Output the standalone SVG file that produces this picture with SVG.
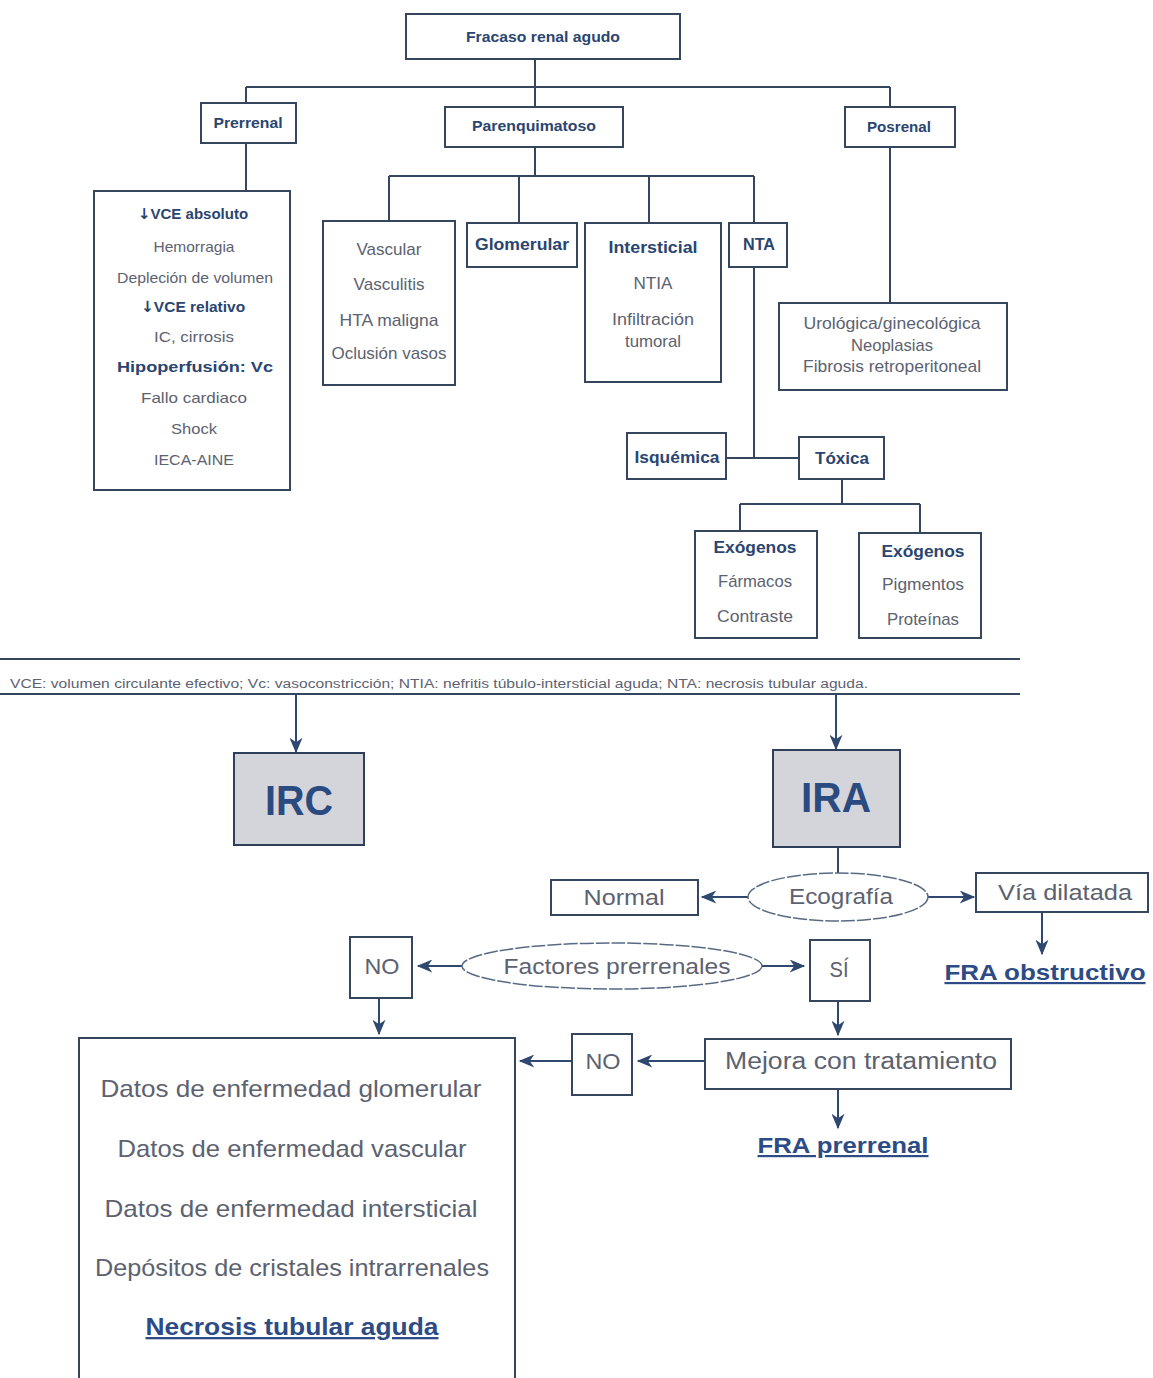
<svg xmlns="http://www.w3.org/2000/svg" width="1153" height="1378" viewBox="0 0 1153 1378">
<style>
text{font-family:"Liberation Sans",Arial,sans-serif;text-anchor:middle}
.b{font-weight:bold;fill:#2a4570}
.r{fill:#5c6270}
.box{fill:#fff;stroke:#36465e;stroke-width:2}
.gbox{fill:#d3d5da;stroke:#2f3f5a;stroke-width:2}
.ell{fill:#fff;stroke:#5a6a82;stroke-width:1.5;stroke-dasharray:14 2}
.ln{fill:none;stroke:#36465e;stroke-width:2}
.ar{fill:none;stroke:#2f4870;stroke-width:2;marker-end:url(#ah)}
.u{font-weight:bold;fill:#2d4b85;text-decoration:underline}
.big{font-weight:bold;fill:#2b4a7f}
.dn{font-family:"DejaVu Sans",sans-serif;font-weight:bold}
</style>
<defs>
<marker id="ah" viewBox="0 0 12 10" refX="11" refY="5" markerUnits="userSpaceOnUse" markerWidth="17" markerHeight="13" orient="auto">
<path d="M0,0 L12,5 L0,10 L3.5,5 Z" fill="#2f4870"/>
</marker>
</defs>
<rect width="1153" height="1378" fill="#fff"/>

<g id="connectors">
<path class="ln" d="M535,59 V87 M246,87 H890 M246,87 V103 M535,87 V107 M890,87 V107 M246,143 V191 M535,147 V176 M389,176 H754 M389,176 V221 M519,176 V223 M649,176 V223 M754,176 V223 M754,267 V458 M726,458 H799 M890,147 V303 M842,479 V504 M740,504 H920 M740,504 V531 M920,504 V533"/>
<path class="ln" d="M0,659 H1020 M0,694 H1020"/>
<path class="ln" d="M838,847 V873"/>
<path class="ar" d="M296,694 V752"/>
<path class="ar" d="M836,694 V749"/>
<path class="ar" d="M748,897 H702"/>
<path class="ar" d="M928,897 H974"/>
<path class="ar" d="M1042,912 V954"/>
<path class="ar" d="M463,966 H418"/>
<path class="ar" d="M762,966 H804"/>
<path class="ar" d="M379,998 V1034"/>
<path class="ar" d="M838,1001 V1035"/>
<path class="ar" d="M705,1061 H638"/>
<path class="ar" d="M572,1061 H520"/>
<path class="ar" d="M838,1089 V1128"/>
</g>

<g id="fracaso"><rect class="box" x="406" y="14" width="274" height="45"/><text class="b" x="543" y="42" font-size="15" textLength="154" lengthAdjust="spacingAndGlyphs">Fracaso renal agudo</text></g>
<g id="prerrenal"><rect class="box" x="201" y="103" width="95" height="40"/><text class="b" x="248" y="128" font-size="14" textLength="69" lengthAdjust="spacingAndGlyphs">Prerrenal</text></g>
<g id="parenquimatoso"><rect class="box" x="445" y="107" width="178" height="40"/><text class="b" x="534" y="131" font-size="14" textLength="124" lengthAdjust="spacingAndGlyphs">Parenquimatoso</text></g>
<g id="posrenal"><rect class="box" x="845" y="107" width="110" height="40"/><text class="b" x="899" y="132" font-size="14" textLength="64" lengthAdjust="spacingAndGlyphs">Posrenal</text></g>

<g id="prerrenal-causas"><rect class="box" x="94" y="191" width="196" height="299"/>
<text class="b" x="193" y="219" font-size="15"><tspan class="dn">↓</tspan>VCE absoluto</text>
<text class="r" x="194" y="252" font-size="15" textLength="81" lengthAdjust="spacingAndGlyphs">Hemorragia</text>
<text class="r" x="195" y="283" font-size="15" textLength="156" lengthAdjust="spacingAndGlyphs">Depleción de volumen</text>
<text class="b" x="193" y="312" font-size="15.5"><tspan class="dn">↓</tspan>VCE relativo</text>
<text class="r" x="194" y="342" font-size="15" textLength="80" lengthAdjust="spacingAndGlyphs">IC, cirrosis</text>
<text class="b" x="195" y="372" font-size="15" textLength="156" lengthAdjust="spacingAndGlyphs">Hipoperfusión: Vc</text>
<text class="r" x="194" y="403" font-size="15" textLength="106" lengthAdjust="spacingAndGlyphs">Fallo cardiaco</text>
<text class="r" x="194" y="434" font-size="15" textLength="46" lengthAdjust="spacingAndGlyphs">Shock</text>
<text class="r" x="194" y="465" font-size="15" textLength="80" lengthAdjust="spacingAndGlyphs">IECA-AINE</text>
</g>

<g id="vascular"><rect class="box" x="323" y="221" width="132" height="164"/>
<text class="r" x="389" y="255" font-size="17" textLength="65" lengthAdjust="spacingAndGlyphs">Vascular</text>
<text class="r" x="389" y="290" font-size="17" textLength="71" lengthAdjust="spacingAndGlyphs">Vasculitis</text>
<text class="r" x="389" y="326" font-size="17" textLength="99" lengthAdjust="spacingAndGlyphs">HTA maligna</text>
<text class="r" x="389" y="359" font-size="17" textLength="115" lengthAdjust="spacingAndGlyphs">Oclusión vasos</text>
</g>
<g id="glomerular"><rect class="box" x="467" y="223" width="110" height="44"/><text class="b" x="522" y="250" font-size="16" textLength="94" lengthAdjust="spacingAndGlyphs">Glomerular</text></g>
<g id="intersticial"><rect class="box" x="585" y="223" width="136" height="159"/>
<text class="b" x="653" y="253" font-size="16" textLength="89" lengthAdjust="spacingAndGlyphs">Intersticial</text>
<text class="r" x="653" y="289" font-size="17" textLength="39" lengthAdjust="spacingAndGlyphs">NTIA</text>
<text class="r" x="653" y="325" font-size="17" textLength="82" lengthAdjust="spacingAndGlyphs">Infiltración</text>
<text class="r" x="653" y="347" font-size="17" textLength="56" lengthAdjust="spacingAndGlyphs">tumoral</text>
</g>
<g id="nta"><rect class="box" x="729" y="223" width="58" height="44"/><text class="b" x="759" y="250" font-size="16" textLength="32" lengthAdjust="spacingAndGlyphs">NTA</text></g>
<g id="posrenal-causas"><rect class="box" x="779" y="303" width="228" height="87"/>
<text class="r" x="892" y="329" font-size="17" textLength="177" lengthAdjust="spacingAndGlyphs">Urológica/ginecológica</text>
<text class="r" x="892" y="351" font-size="17" textLength="82" lengthAdjust="spacingAndGlyphs">Neoplasias</text>
<text class="r" x="892" y="372" font-size="17" textLength="178" lengthAdjust="spacingAndGlyphs">Fibrosis retroperitoneal</text>
</g>
<g id="isquemica"><rect class="box" x="627" y="433" width="99" height="46"/><text class="b" x="677" y="463" font-size="16" textLength="85" lengthAdjust="spacingAndGlyphs">Isquémica</text></g>
<g id="toxica"><rect class="box" x="799" y="437" width="85" height="42"/><text class="b" x="842" y="464" font-size="16" textLength="54" lengthAdjust="spacingAndGlyphs">Tóxica</text></g>
<g id="exogenos1"><rect class="box" x="695" y="531" width="122" height="107"/>
<text class="b" x="755" y="553" font-size="16" textLength="83" lengthAdjust="spacingAndGlyphs">Exógenos</text>
<text class="r" x="755" y="587" font-size="17" textLength="74" lengthAdjust="spacingAndGlyphs">Fármacos</text>
<text class="r" x="755" y="622" font-size="17" textLength="76" lengthAdjust="spacingAndGlyphs">Contraste</text>
</g>
<g id="exogenos2"><rect class="box" x="859" y="533" width="122" height="105"/>
<text class="b" x="923" y="557" font-size="16" textLength="83" lengthAdjust="spacingAndGlyphs">Exógenos</text>
<text class="r" x="923" y="590" font-size="17" textLength="82" lengthAdjust="spacingAndGlyphs">Pigmentos</text>
<text class="r" x="923" y="625" font-size="17" textLength="72" lengthAdjust="spacingAndGlyphs">Proteínas</text>
</g>

<g id="footnote"><text class="r" x="10" y="688" font-size="12" style="text-anchor:start" fill="#444" textLength="858" lengthAdjust="spacingAndGlyphs">VCE: volumen circulante efectivo; Vc: vasoconstricción; NTIA: nefritis túbulo-intersticial aguda; NTA: necrosis tubular aguda.</text></g>

<g id="irc"><rect class="gbox" x="234" y="753" width="130" height="92"/><text class="big" x="299" y="815" font-size="42" textLength="68" lengthAdjust="spacingAndGlyphs">IRC</text></g>
<g id="ira"><rect class="gbox" x="773" y="750" width="127" height="97"/><text class="big" x="836" y="812" font-size="42" textLength="70" lengthAdjust="spacingAndGlyphs">IRA</text></g>
<g id="ecografia"><ellipse class="ell" cx="838" cy="897" rx="90" ry="24"/><text class="r" x="841" y="904" font-size="22" textLength="104" lengthAdjust="spacingAndGlyphs">Ecografía</text></g>
<g id="normal"><rect class="box" x="551" y="880" width="147" height="35"/><text class="r" x="624" y="905" font-size="22" textLength="81" lengthAdjust="spacingAndGlyphs">Normal</text></g>
<g id="via-dilatada"><rect class="box" x="976" y="873" width="172" height="39"/><text class="r" x="1065" y="900" font-size="22" textLength="134" lengthAdjust="spacingAndGlyphs">Vía dilatada</text></g>
<g id="fra-obstructivo"><text class="u" x="1045" y="980" font-size="22" textLength="201" lengthAdjust="spacingAndGlyphs">FRA obstructivo</text></g>
<g id="factores"><ellipse class="ell" cx="612" cy="966" rx="150" ry="23"/><text class="r" x="617" y="974" font-size="22" textLength="227" lengthAdjust="spacingAndGlyphs">Factores prerrenales</text></g>
<g id="no1"><rect class="box" x="350" y="937" width="62" height="61"/><text class="r" x="382" y="974" font-size="22" textLength="35" lengthAdjust="spacingAndGlyphs">NO</text></g>
<g id="si"><rect class="box" x="810" y="940" width="60" height="61"/><text class="r" x="839" y="977" font-size="22" textLength="19" lengthAdjust="spacingAndGlyphs">SÍ</text></g>
<g id="mejora"><rect class="box" x="705" y="1039" width="306" height="50"/><text class="r" x="861" y="1069" font-size="23" textLength="272" lengthAdjust="spacingAndGlyphs">Mejora con tratamiento</text></g>
<g id="no2"><rect class="box" x="572" y="1034" width="60" height="61"/><text class="r" x="603" y="1069" font-size="22" textLength="35" lengthAdjust="spacingAndGlyphs">NO</text></g>
<g id="fra-prerrenal"><text class="u" x="843" y="1153" font-size="22" textLength="171" lengthAdjust="spacingAndGlyphs">FRA prerrenal</text></g>
<g id="datos"><rect class="box" x="79" y="1038" width="436" height="360"/>
<text class="r" x="291" y="1097" font-size="24" textLength="381" lengthAdjust="spacingAndGlyphs">Datos de enfermedad glomerular</text>
<text class="r" x="292" y="1157" font-size="24" textLength="349" lengthAdjust="spacingAndGlyphs">Datos de enfermedad vascular</text>
<text class="r" x="291" y="1217" font-size="24" textLength="373" lengthAdjust="spacingAndGlyphs">Datos de enfermedad intersticial</text>
<text class="r" x="292" y="1276" font-size="24" textLength="394" lengthAdjust="spacingAndGlyphs">Depósitos de cristales intrarrenales</text>
<text class="u" x="292" y="1335" font-size="23" textLength="293" lengthAdjust="spacingAndGlyphs">Necrosis tubular aguda</text>
</g>
</svg>
